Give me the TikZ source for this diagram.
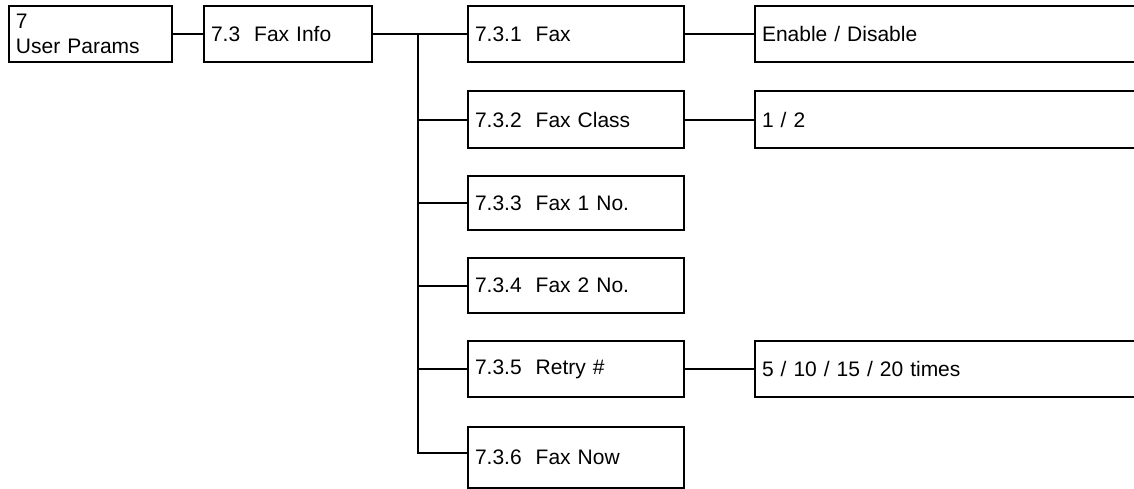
\documentclass[tikz,border=0pt]{standalone}
\usepackage{fontspec}
\setmainfont{Liberation Sans}
\begin{document}
\begin{tikzpicture}[x=0.5pt,y=-0.5pt,
  box/.style={draw, line width=1pt, rectangle, inner xsep=3.5pt, inner ysep=0pt,
    align=left, anchor=north west, font=\fontsize{10.5}{12.5}\selectfont},
  mid/.style={box, text width=101pt},
  opt/.style={box, text width=190pt},
  conn/.style={line width=1pt}]
\useasboundingbox (0,0) rectangle (1134,488);
\clip (0,0) rectangle (1134,488);
\node[box, text width=74.5pt, minimum height=28pt] (up) at (8,5) {7\\User Params};
\node[box, text width=77pt, minimum height=28pt] (fi) at (203,5) {7.3\ \ Fax Info};
\node[mid, minimum height=28pt] (f1) at (467,5) {7.3.1\ \ Fax};
\node[mid, minimum height=28.5pt] (f2) at (467,90) {7.3.2\ \ Fax Class};
\node[mid, minimum height=27pt] (f3) at (467,175) {7.3.3\ \ Fax 1 No.};
\node[mid, minimum height=27.5pt] (f4) at (467,257) {7.3.4\ \ Fax 2 No.};
\node[mid, minimum height=28pt] (f5) at (467,340) {7.3.5\ \ Retry \#};
\node[mid, minimum height=30.5pt] (f6) at (467,426) {7.3.6\ \ Fax Now};
\node[opt, minimum height=28pt] (o1) at (754,5) {Enable / Disable};
\node[opt, minimum height=28.5pt] (o2) at (754,90) {1 / 2};
\node[opt, minimum height=28pt] (o5) at (754,340) {5 / 10 / 15 / 20 times};
\draw[conn] (up.east) -- (fi.west);
\draw[conn] (fi.east) -- (f1.west);
\coordinate (t) at (418,33);
\draw[conn] (t) |- ([yshift=2.25pt]f6.west);
\foreach \n in {f2,f3,f4,f5} \draw[conn] (t |- \n.west) -- (\n.west);
\draw[conn] (f1.east) -- (o1.west);
\draw[conn] (f2.east) -- (o2.west);
\draw[conn] (f5.east) -- (o5.west);
\end{tikzpicture}
\end{document}
